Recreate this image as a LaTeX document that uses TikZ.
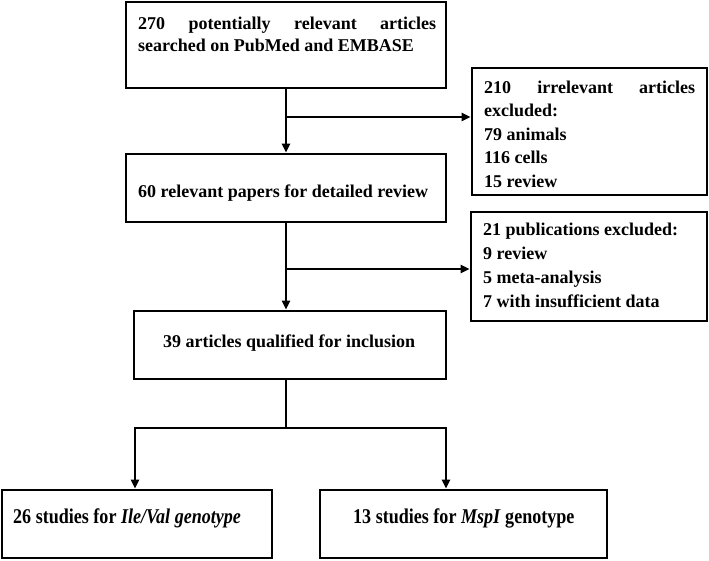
\documentclass[tikz,border=0pt]{standalone}
\usepackage{fontspec}
\setmainfont{Liberation Serif}
\usetikzlibrary{arrows.meta}
\tikzset{
  box/.style={draw, rectangle, line width=2.6pt, inner sep=0pt},
  txt/.style={inner sep=0pt, anchor=base west, font=\bfseries},
  conn/.style={line width=2.2pt},
  arr/.style={conn, -{Triangle[length=9pt,width=8pt]}},
  arr2/.style={conn, {Triangle[length=9pt,width=8pt]}-{Triangle[length=9pt,width=8pt]}, line join=miter},
}
\newcommand{\tbox}[3]{\parbox[t]{#1}{\fontsize{18}{#2}\selectfont\hyphenpenalty=10000 #3}}
\newcommand{\condtxt}[1]{\scalebox{0.86}[1]{\fontsize{21}{21}\selectfont #1}}
\begin{document}
\begin{tikzpicture}[x=1pt, y=-1pt]
\useasboundingbox (0,0) rectangle (709,560);
% boxes
\node[box, minimum width=320pt, minimum height=86pt] (b1) at (286,45) {};
\node[box, minimum width=320pt, minimum height=68pt] (b2) at (286,188) {};
\node[box, minimum width=312pt, minimum height=68pt] (b3) at (290,345) {};
\node[box, minimum width=235pt, minimum height=127pt] (bA) at (589.5,131.5) {};
\node[box, minimum width=236pt, minimum height=109pt] (bB) at (589,266.5) {};
\node[box, minimum width=270pt, minimum height=68pt] (bL) at (137,524) {};
\node[box, minimum width=287pt, minimum height=68pt] (bR) at (463.5,524) {};
% texts
\node[txt] (t1) at (138,29) {\tbox{298pt}{22pt}{270 potentially relevant articles searched on PubMed and EMBASE}};
\node[txt] (t2) at (138,197) {\tbox{300pt}{22pt}{60 relevant papers for detailed review}};
\node[txt] (t3) at (163,347) {\tbox{280pt}{22pt}{39 articles qualified for inclusion}};
\node[txt] (tA) at (484,93) {\tbox{211pt}{23.5pt}{210 irrelevant articles excluded:\\79 animals\\116 cells\\15 review}};
\node[txt] (tB) at (483,235) {\tbox{220pt}{24pt}{21 publications excluded:\\9 review\\5 meta-analysis\\7 with insufficient data}};
\node[txt] (tL) at (13,523) {\condtxt{26 studies for \textit{Ile/Val genotype}}};
\node[txt] (tR) at (353,523) {\condtxt{13 studies for \textit{MspI} genotype}};
% connectors
\draw[arr] (b1.south) -- (b2.north);
\coordinate (j1) at (286,117);
\draw[arr] (j1) -- (j1 -| bA.west);
\draw[arr] (b2.south) -- (b2.south |- b3.north);
\coordinate (j2) at (286,269);
\draw[arr] (j2) -- (j2 -| bB.west);
\coordinate (j3) at (286,428);
\draw[conn] (b2.south |- b3.south) -- (j3);
\coordinate (jl) at (135,428);
\coordinate (jr) at (446,428);
\draw[arr2] (jl |- bL.north) -- (jl) -- (jr) -- (jr |- bR.north);
\end{tikzpicture}
\end{document}
